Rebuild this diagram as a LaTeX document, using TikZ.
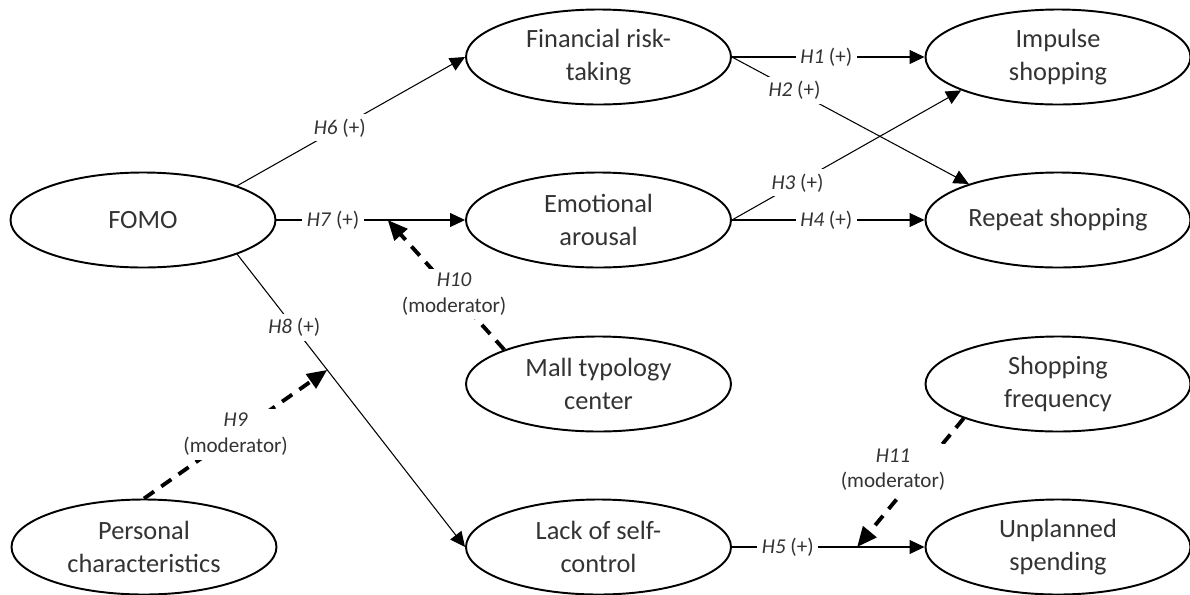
\documentclass[tikz,border=0pt]{standalone}
\usepackage{fontspec}
\setmainfont{Carlito}
\usepackage{tikz}
\usetikzlibrary{positioning,arrows.meta,shapes.geometric}

\begin{document}
\begin{tikzpicture}[
  construct/.style={ellipse,draw,line width=1.1pt,minimum width=5.3cm,
    minimum height=1.9cm,inner sep=0pt,align=center,text=black!80,
    font=\fontsize{15}{18.5}\selectfont},
  hyp/.style={fill=white,inner sep=2.5pt,align=center,text=black!80,
    font=\fontsize{12}{14.5}\selectfont},
  effect/.style={line width=0.6pt,-{Triangle[length=3mm,width=2.8mm]}},
  moder/.style={line width=2.2pt,dash pattern=on 7pt off 5pt,
    -{Triangle[length=4mm,width=3.4mm]}}]
  \useasboundingbox (0,0) rectangle (23.8,-11.88);
  % constructs
  \foreach \n/\x/\y/\l in {fomo/2.86/-4.40/FOMO,
    fin/11.97/-1.14/{Financial risk-\\taking},
    imp/21.16/-1.14/{Impulse\\shopping},
    aro/11.97/-4.40/{Emotional\\arousal},
    rep/21.16/-4.40/{Repeat shopping},
    mall/11.97/-7.68/{Mall typology\\center},
    freq/21.16/-7.68/{Shopping\\frequency},
    pers/2.88/-10.94/{Personal\\characteristics},
    self/11.97/-10.94/{Lack of self-\\control},
    unpl/21.16/-10.94/{Unplanned\\spending}}{
    \node[construct] (\n) at (\x,\y) {\l};}
  % direct effects
  \draw[effect] (fomo.20) -- node[hyp,pos=0.45] {\textit{H6} (+)} (fin.west);
  \draw[effect] (fomo.east) -- node[hyp,pos=0.30] {\textit{H7} (+)}
    coordinate[pos=0.59] (m10) (aro.west);
  \draw[effect] (fomo.-20) -- node[hyp,pos=0.25] {\textit{H8} (+)}
    coordinate[pos=0.395] (m9) (self.west);
  \draw[effect] (fin.east) -- node[hyp,pos=0.49] {\textit{H1} (+)} (imp.west);
  \draw[effect] (fin.east) -- node[hyp,pos=0.264] {\textit{H2} (+)} (rep.158);
  \draw[effect] (aro.east) -- node[hyp,pos=0.286] {\textit{H3} (+)} (imp.199);
  \draw[effect] (aro.east) -- node[hyp,pos=0.49] {\textit{H4} (+)} (rep.west);
  \draw[effect] (self.east) -- node[hyp,pos=0.29] {\textit{H5} (+)}
    coordinate[pos=0.65] (m11) (unpl.west);
  % moderators
  \draw[moder] (pers.north) -- node[hyp,pos=0.5] {\textit{H9}\\(moderator)} (m9);
  \draw[moder] (mall.160) -- node[hyp,pos=0.43] {\textit{H10}\\(moderator)} (m10);
  \draw[moder] (freq.200) -- node[hyp,pos=0.4,xshift=-0.56cm]
    {\textit{H11}\\(moderator)} (m11);
\end{tikzpicture}
\end{document}
